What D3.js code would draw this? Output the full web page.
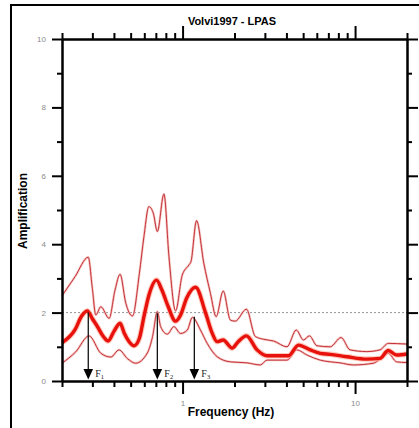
<!DOCTYPE html>
<html>
<head>
<meta charset="utf-8">
<script src="https://cdn.jsdelivr.net/npm/d3@7"></script>
<style>
  html, body { margin: 0; padding: 0; background: #fff; }
  svg { display: block; }
</style>
</head>
<body>
<svg id="chart" width="419" height="428"></svg>
<script>
// Site amplification at LPAS, Volvi 1997: mean and mean ± std curves
const meanFreq = [0.2, 0.238, 0.26, 0.281, 0.30, 0.321, 0.345, 0.37, 0.40, 0.434, 0.46, 0.49, 0.523, 0.562, 0.597, 0.638, 0.707, 0.759, 0.826, 0.911, 0.974, 1.055, 1.19, 1.358, 1.485, 1.587, 1.719, 1.938, 2.1, 2.344, 2.703, 3.087, 4.11, 4.70, 5.49, 6.28, 7.17, 8.95, 11.69, 13.95, 15.57, 17.42, 20];
const meanAmp  = [1.12, 1.5, 1.9, 2.05, 1.82, 1.59, 1.32, 1.17, 1.45, 1.69, 1.39, 1.15, 1.03, 1.25, 1.88, 2.51, 2.95, 2.66, 2.17, 1.75, 1.93, 2.42, 2.74, 2.0, 1.4, 1.15, 1.2, 0.96, 1.15, 1.32, 0.91, 0.74, 0.74, 1.05, 0.91, 0.81, 0.78, 0.71, 0.64, 0.66, 0.89, 0.76, 0.79];

const upperFreq = [0.2, 0.238, 0.284, 0.30, 0.314, 0.336, 0.375, 0.406, 0.434, 0.469, 0.512, 0.562, 0.597, 0.638, 0.677, 0.714, 0.78, 0.834, 0.911, 0.996, 1.087, 1.12, 1.205, 1.328, 1.451, 1.566, 1.719, 1.894, 2.02, 2.344, 2.642, 2.951, 3.37, 4.03, 4.56, 5.02, 5.44, 6.01, 7.17, 8.30, 9.35, 11.69, 13.95, 15.57, 20];
const upperAmp  = [2.49, 3.05, 3.62, 2.7, 1.93, 2.17, 1.83, 2.66, 3.12, 2.27, 1.9, 3.15, 4.22, 5.1, 4.9, 4.37, 5.47, 3.63, 2.05, 3.1, 3.39, 3.5, 4.69, 3.44, 2.56, 1.88, 2.63, 1.78, 1.75, 2.1, 1.3, 1.22, 1.17, 1.0, 1.49, 1.2, 1.32, 1.03, 1.0, 1.27, 0.91, 0.86, 0.91, 1.1, 1.08];

const lowerFreq = [0.2, 0.24, 0.287, 0.336, 0.384, 0.428, 0.48, 0.535, 0.625, 0.67, 0.714, 0.746, 0.816, 0.891, 0.974, 1.065, 1.14, 1.27, 1.389, 1.587, 1.894, 2.366, 2.824, 3.087, 4.03, 4.60, 5.26, 6.28, 8.19, 9.78, 12.76, 15.57, 17.42, 20];
const lowerAmp  = [0.52, 0.85, 1.32, 0.81, 0.7, 0.91, 0.65, 0.52, 0.82, 1.3, 2.03, 1.59, 1.37, 1.59, 1.39, 1.49, 1.86, 1.49, 1.1, 0.71, 0.56, 0.53, 0.47, 0.61, 0.61, 0.91, 0.76, 0.61, 0.53, 0.47, 0.52, 0.81, 0.56, 0.54];

// Picked resonance frequencies
const peakNames = ["1", "2", "3"];
const peakFreq  = [0.284, 0.714, 1.17];
const peakTop   = [2.0, 1.98, 1.88];

// Axis ticks
const xMajorTicks = [1, 10];
const xMinorTicks = [0.2, 0.3, 0.4, 0.5, 0.6, 0.7, 0.8, 0.9, 2, 3, 4, 5, 6, 7, 8, 9, 20];
const yMajorTicks = [0, 2, 4, 6, 8, 10];
const yMinorTicks = [1, 3, 5, 7, 9];
const threshold = 2;

const svg = d3.select("#chart");
const font = "Arial, 'Liberation Sans', sans-serif";

const L = 62, R = 407, T = 39, B = 381;
const x = d3.scaleLog().domain([0.2, 20]).range([L, R]);
const y = d3.scaleLinear().domain([0, 10]).range([B, T]);

// Outer frame
svg.append("rect")
  .attr("x", 11).attr("y", 5).attr("width", 430).attr("height", 440)
  .attr("fill", "none").attr("stroke", "#000").attr("stroke-width", 2);

// Title
svg.append("text")
  .attr("x", 232).attr("y", 25)
  .attr("text-anchor", "middle")
  .attr("font-family", font).attr("font-weight", "bold").attr("font-size", 11)
  .text("Volvi1997 - LPAS");

// Reference level at amplification 2
svg.append("line")
  .attr("x1", L).attr("x2", R)
  .attr("y1", y(threshold)).attr("y2", y(threshold))
  .attr("stroke", "#777").attr("stroke-width", 0.8).attr("stroke-dasharray", "2,2");

const line = d3.line()
  .x(d => x(d[0])).y(d => y(d[1]))
  .curve(d3.curveMonotoneX);

const meanPts  = meanFreq.map((f, i) => [f, meanAmp[i]]);
const upperPts = upperFreq.map((f, i) => [f, upperAmp[i]]);
const lowerPts = lowerFreq.map((f, i) => [f, lowerAmp[i]]);

// Mean ± std curves (thin)
[upperPts, lowerPts].forEach(pts => {
  svg.append("path").datum(pts).attr("d", line)
    .attr("fill", "none").attr("stroke", "#f6c2c0").attr("stroke-width", 2.4);
  svg.append("path").datum(pts).attr("d", line)
    .attr("fill", "none").attr("stroke", "#c23338").attr("stroke-width", 1);
});

// Mean curve (thick)
svg.append("path").datum(meanPts).attr("d", line)
  .attr("fill", "none").attr("stroke", "#ffb0a0").attr("stroke-width", 5.5)
  .attr("stroke-linejoin", "round").attr("opacity", 0.7);
svg.append("path").datum(meanPts).attr("d", line)
  .attr("fill", "none").attr("stroke", "#e8120c").attr("stroke-width", 3.4)
  .attr("stroke-linejoin", "round");

// Axes: minor and major ticks drawn as separate axis generators
function styleAxis(g) {
  g.selectAll("path.domain").attr("stroke", "#000").attr("stroke-width", 2);
  g.selectAll(".tick line").attr("stroke", "#000").attr("stroke-width", 2);
  g.selectAll(".tick text").attr("fill", "#8a8a8a").attr("font-family", font).attr("font-size", 8);
}
function addAxis(axisFn, scale, pos, ticks, size, labels) {
  const ax = axisFn(scale).tickValues(ticks).tickSize(size).tickSizeOuter(0)
    .tickPadding(labels ? 6 : 3)
    .tickFormat(labels ? d3.format("d") : () => "");
  const horiz = axisFn === d3.axisBottom || axisFn === d3.axisTop;
  svg.append("g")
    .attr("transform", horiz ? `translate(0,${pos})` : `translate(${pos},0)`)
    .call(ax)
    .call(styleAxis);
}

addAxis(d3.axisBottom, x, B, xMinorTicks, 6, false);
addAxis(d3.axisBottom, x, B, xMajorTicks, 13, true);
addAxis(d3.axisTop, x, T, xMinorTicks, 6, false);
addAxis(d3.axisTop, x, T, xMajorTicks, 13, false);
addAxis(d3.axisLeft, y, L, yMinorTicks, 5, false);
addAxis(d3.axisLeft, y, L, yMajorTicks, 10, true);
addAxis(d3.axisRight, y, R, yMinorTicks, 5, false);
addAxis(d3.axisRight, y, R, yMajorTicks, 11, false);

// Axis titles
svg.append("text")
  .attr("x", 231).attr("y", 416)
  .attr("text-anchor", "middle")
  .attr("font-family", font).attr("font-weight", "bold").attr("font-size", 12)
  .text("Frequency (Hz)");
svg.append("text")
  .attr("transform", "translate(27,211) rotate(-90)")
  .attr("text-anchor", "middle")
  .attr("font-family", font).attr("font-weight", "bold").attr("font-size", 12)
  .text("Amplification");

// Arrows marking F1, F2, F3
const serif = "'Times New Roman', 'Liberation Serif', serif";
peakFreq.forEach((f, i) => {
  const px = x(f);
  svg.append("line")
    .attr("x1", px).attr("x2", px)
    .attr("y1", y(peakTop[i])).attr("y2", 370)
    .attr("stroke", "#111").attr("stroke-width", 1.3);
  svg.append("path")
    .attr("d", `M${px - 4.8},369 L${px + 4.8},369 L${px},379.5 Z`)
    .attr("fill", "#000");
  const t = svg.append("text")
    .attr("x", px + 7).attr("y", 377)
    .attr("font-family", serif).attr("font-size", 10).attr("fill", "#222");
  t.append("tspan").text("F");
  t.append("tspan").attr("font-size", 6.5).attr("dy", 2).text(peakNames[i]);
});
</script>
</body>
</html>
